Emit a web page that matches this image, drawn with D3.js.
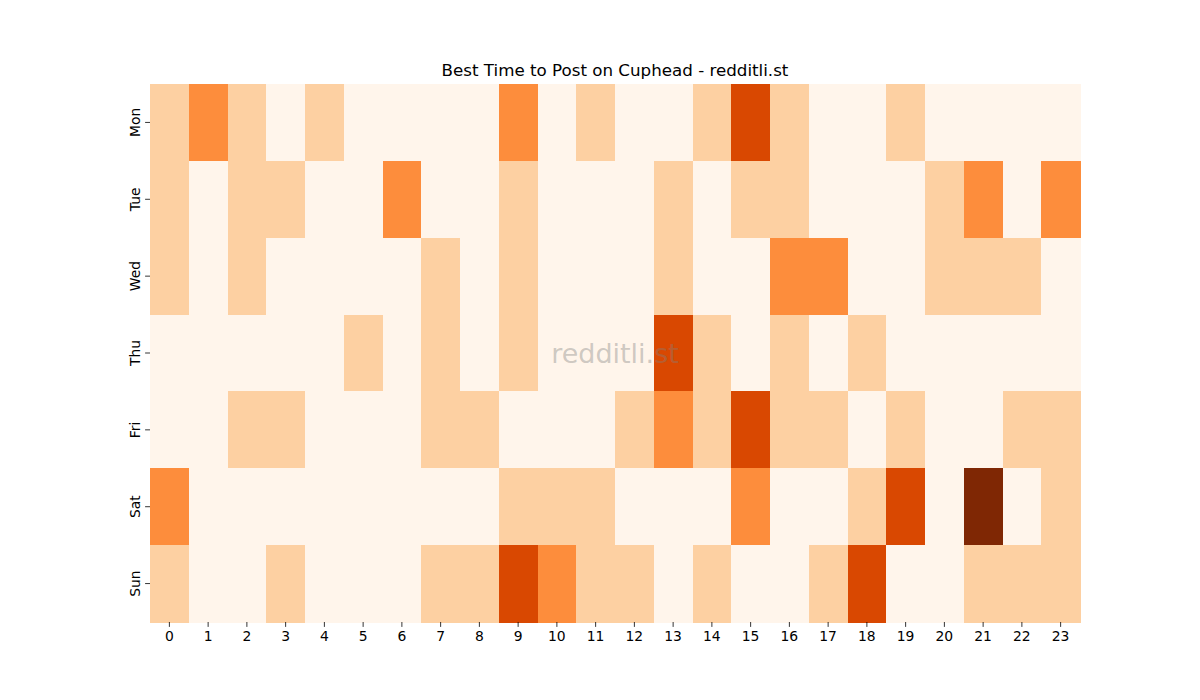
<!DOCTYPE html>
<html>
<head>
<meta charset="utf-8">
<script src="https://cdn.jsdelivr.net/npm/d3@7"></script>
<style>
  body { margin: 0; background: #fff; }
  svg { display: block; font-family: "DejaVu Sans", sans-serif; }
</style>
</head>
<body>
<div class="chart-container"></div>
<script>
const days = ["Mon", "Tue", "Wed", "Thu", "Fri", "Sat", "Sun"];
const hours = d3.range(24);
const tickLabels = hours.map(String);

// posts per day (rows) and hour (cols)
const mon = [1,2,1,0,1,0,0,0,0,2,0,1,0,0,1,3,1,0,0,1,0,0,0,0];
const tue = [1,0,1,1,0,0,2,0,0,1,0,0,0,1,0,1,1,0,0,0,1,2,0,2];
const wed = [1,0,1,0,0,0,0,1,0,1,0,0,0,1,0,0,2,2,0,0,1,1,1,0];
const thu = [0,0,0,0,0,1,0,1,0,1,0,0,0,3,1,0,1,0,1,0,0,0,0,0];
const fri = [0,0,1,1,0,0,0,1,1,0,0,0,1,2,1,3,1,1,0,1,0,0,1,1];
const sat = [2,0,0,0,0,0,0,0,0,1,1,1,0,0,0,2,0,0,1,3,0,4,0,1];
const sun = [1,0,0,1,0,0,0,1,1,3,2,1,1,0,1,0,0,1,3,0,0,1,1,1];
const rows = [mon, tue, wed, thu, fri, sat, sun];

const title = "Best Time to Post on Cuphead - redditli.st";

const width = 1200, height = 700;
const margin = {top: 84, right: 120, bottom: 78, left: 150};

const svg = d3.select(".chart-container")
  .append("svg")
  .attr("width", width)
  .attr("height", height);

const xScale = d3.scaleBand()
  .domain(hours)
  .range([margin.left, width - margin.right]);

const yScale = d3.scaleBand()
  .domain(days)
  .range([margin.top, height - margin.bottom]);

// matplotlib Oranges sampled at 0, .25, .5, .75, 1
const color = d3.scaleLinear()
  .domain([0, 1, 2, 3, 4])
  .range(["#fff5eb", "#fdd0a2", "#fd8d3c", "#d94801", "#7f2704"]);

const cells = [];
rows.forEach((r, i) => r.forEach((v, j) => cells.push({day: days[i], hour: hours[j], value: v})));

svg.append("g")
  .selectAll("rect")
  .data(cells)
  .join("rect")
  .attr("x", d => xScale(d.hour))
  .attr("y", d => yScale(d.day))
  .attr("width", xScale.bandwidth() + 0.5)
  .attr("height", yScale.bandwidth() + 0.5)
  .attr("fill", d => color(d.value))
  .attr("shape-rendering", "crispEdges");

const xAxis = d3.axisBottom(xScale).tickSize(4.9).tickPadding(4).tickFormat((d, i) => tickLabels[i]);
const yAxis = d3.axisLeft(yScale).tickSize(4.9).tickPadding(4);

const gx = svg.append("g")
  .attr("transform", "translate(0," + (height - margin.bottom) + ")")
  .call(xAxis);
gx.select(".domain").remove();
gx.selectAll("line").attr("stroke", "#000").attr("stroke-width", 0.8);
gx.selectAll("text").attr("font-size", "13.9px").attr("fill", "#000")
  .attr("font-family", "DejaVu Sans");

const gy = svg.append("g")
  .attr("transform", "translate(" + margin.left + ",0)")
  .call(yAxis);
gy.select(".domain").remove();
gy.selectAll("line").attr("stroke", "#000").attr("stroke-width", 0.8);
gy.selectAll("text")
  .attr("font-size", "13.9px").attr("fill", "#000")
  .attr("font-family", "DejaVu Sans")
  .attr("x", null).attr("dy", null)
  .attr("text-anchor", "middle")
  .attr("transform", "translate(-15.5,0) rotate(-90)")
  .attr("dominant-baseline", "central");

svg.append("text")
  .attr("x", (margin.left + width - margin.right) / 2)
  .attr("y", 76)
  .attr("text-anchor", "middle")
  .attr("font-size", "16.7px")
  .attr("fill", "#000")
  .text(title);

// watermark
svg.append("text")
  .attr("x", (margin.left + width - margin.right) / 2)
  .attr("y", (margin.top + height - margin.bottom) / 2)
  .attr("text-anchor", "middle")
  .attr("dominant-baseline", "central")
  .attr("font-size", "27px")
  .attr("fill", "#808080")
  .attr("fill-opacity", 0.4)
  .text("redditli.st");
</script>
</body>
</html>
